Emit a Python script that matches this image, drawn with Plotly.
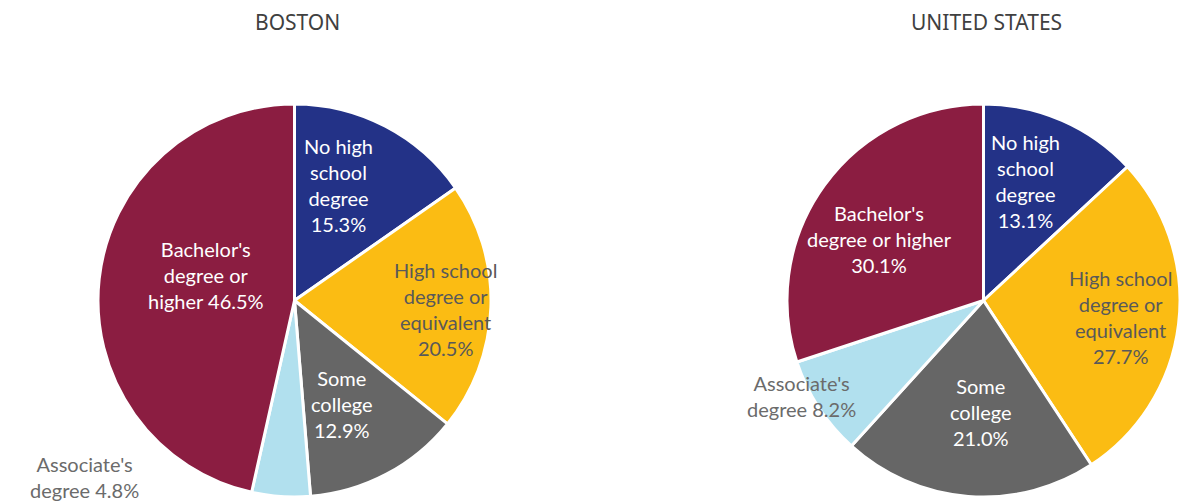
import plotly.graph_objects as go

W, H = 1186, 501

categories = ["No high school degree", "High school degree or equivalent",
              "Some college", "Associate's degree", "Bachelor's degree or higher"]
boston_values = [15.3, 20.5, 12.9, 4.8, 46.5]
us_values = [13.1, 27.7, 21.0, 8.2, 30.1]
titles = ["BOSTON", "UNITED STATES"]

colors = ["#233287", "#FBBC13", "#666666", "#B1E0EE", "#8B1D41"]
text_colors = ["white", "#595959", "white", "#6b6b6b", "white"]

# label wording with line breaks, as displayed
boston_label_lines = ["No high<br>school<br>degree<br>", "High school<br>degree or<br>equivalent<br>",
                      "Some<br>college<br>", "Associate's<br>degree ", "Bachelor's<br>degree or<br>higher "]
us_label_lines = ["No high<br>school<br>degree<br>", "High school<br>degree or<br>equivalent<br>",
                  "Some<br>college<br>", "Associate's<br>degree ", "Bachelor's<br>degree or higher<br>"]

# label centres in pixels (layout)
boston_label_pos = [(338, 185), (445, 309), (342, 404), (84, 477), (206, 275)]
us_label_pos = [(1025, 181), (1120, 317), (981, 412), (801, 396), (879, 239)]

# pie boxes in pixels: (left, top, size)
pie_boxes = [(98, 104, 393), (787, 104, 393)]
title_pos = [(297, 22), (987, 22)]

fig = go.Figure()
for vals, box in zip([boston_values, us_values], pie_boxes):
    l, t, s = box
    fig.add_trace(go.Pie(
        labels=categories, values=vals, sort=False, direction="clockwise", rotation=0,
        marker=dict(colors=colors, line=dict(color="white", width=3)),
        textinfo="none", hoverinfo="label+percent", showlegend=False,
        domain=dict(x=[l / W, (l + s) / W], y=[1 - (t + s) / H, 1 - t / H]),
    ))

annotations = []
for lines, vals, poss in [(boston_label_lines, boston_values, boston_label_pos),
                          (us_label_lines, us_values, us_label_pos)]:
    for i, (ln, v, (px, py)) in enumerate(zip(lines, vals, poss)):
        annotations.append(dict(
            text=f"{ln}{v:.1f}%", x=px / W, y=1 - py / H, xref="paper", yref="paper",
            xanchor="center", yanchor="middle", align="center", showarrow=False,
            font=dict(family="Lato, 'Open Sans', sans-serif", size=20, color=text_colors[i]),
        ))
for t, (px, py) in zip(titles, title_pos):
    annotations.append(dict(
        text=t, x=px / W, y=1 - py / H, xref="paper", yref="paper",
        xanchor="center", yanchor="middle", showarrow=False,
        font=dict(family="'Noto Sans', 'Open Sans', sans-serif", size=21, color="#404040"),
    ))

fig.update_layout(
    width=W, height=H, margin=dict(l=0, r=0, t=0, b=0),
    paper_bgcolor="white", plot_bgcolor="white",
    annotations=annotations,
)
fig.write_html("out.html", config={"displayModeBar": False},
               post_script="document.body.style.margin='0';document.body.style.overflow='hidden';")
